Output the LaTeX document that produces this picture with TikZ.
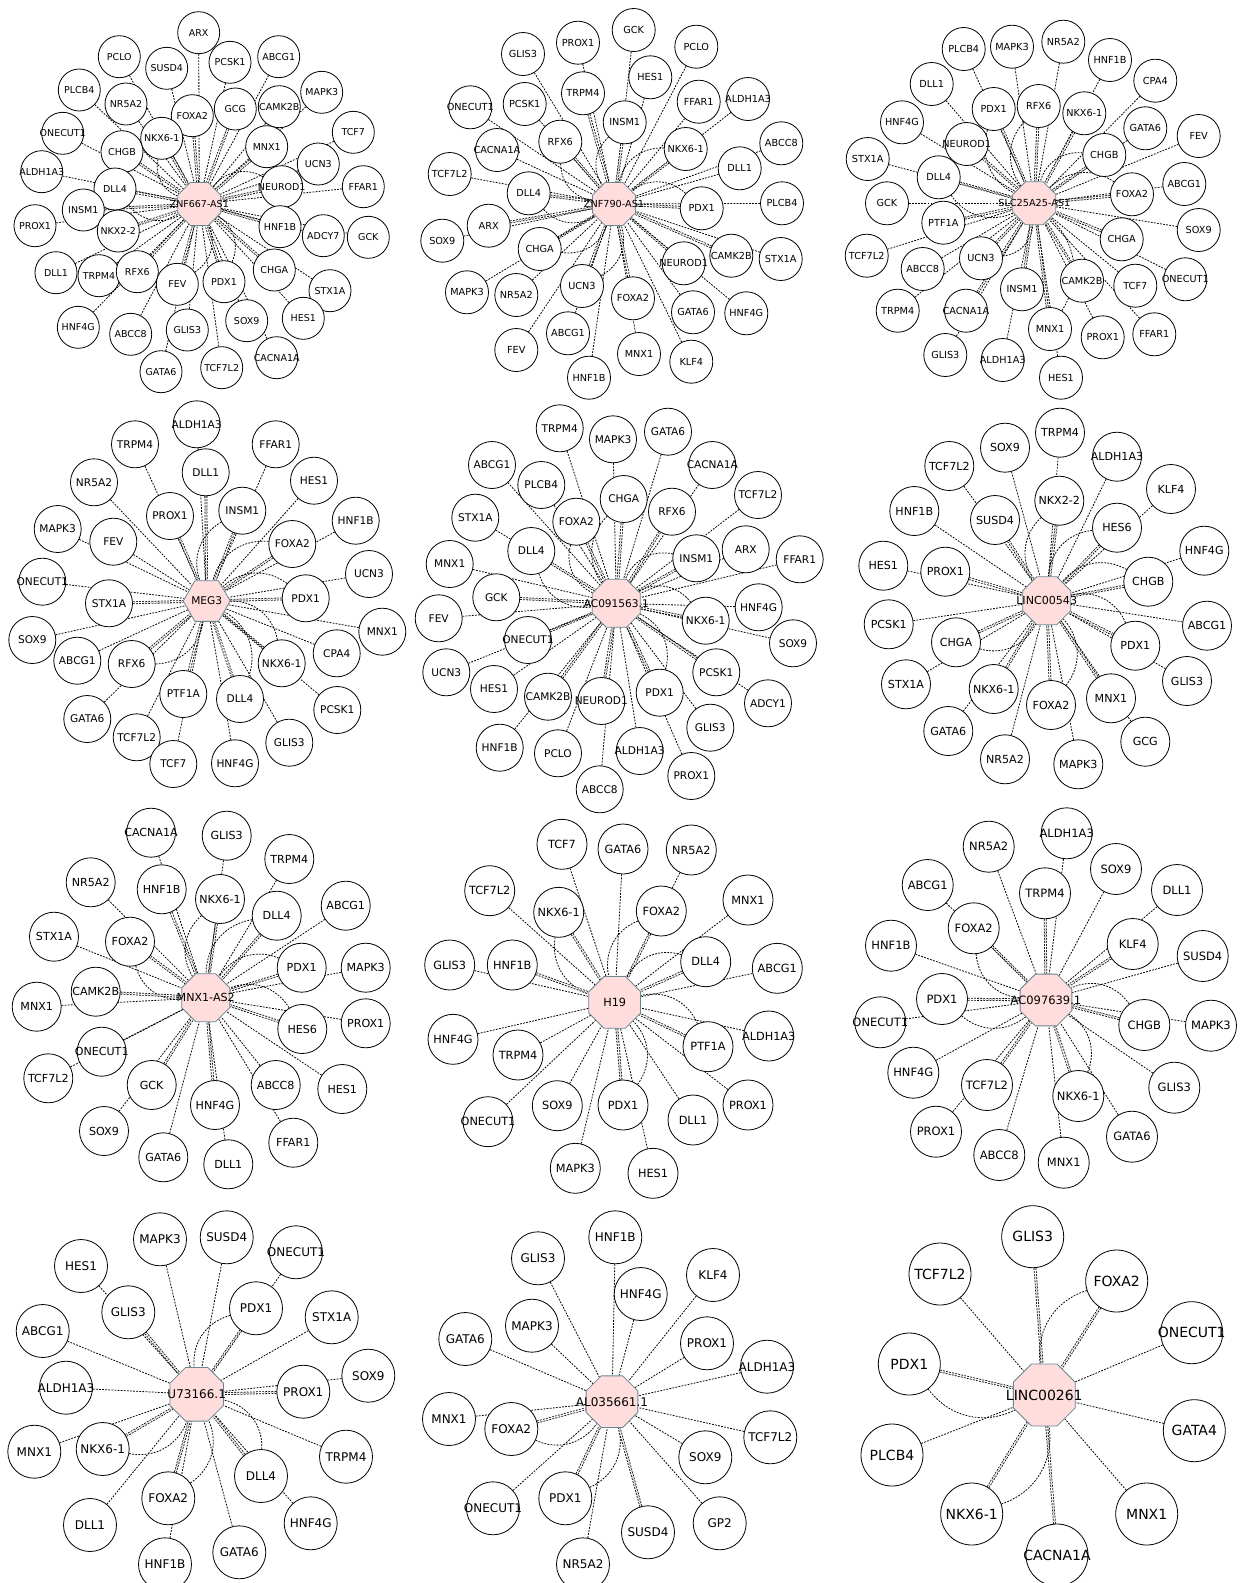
\documentclass[tikz,border=0pt]{standalone}
\usepackage{fontspec}
\setmainfont{DejaVu Sans}
\usetikzlibrary{shapes.geometric,backgrounds}
\definecolor{hubfill}{RGB}{255,221,221}
\definecolor{hubline}{RGB}{105,135,145}
\newcommand\netpanel[2]{%
 \foreach \px/\py/\lab/\mm in {#2}{%
   \node[gn] (n#1-\lab) at (\px,\py) {\makebox[0pt]{\lab}};
 }%
 \begin{pgfonlayer}{background}
 \foreach \px/\py/\lab/\mm in {#2}{%
     \ifnum\mm=1 \draw[edge] (n#1-\lab) -- (h#1);\fi
     \ifnum\mm>1 \draw[edge,double=white,double distance=1.2pt] (n#1-\lab) -- (h#1);\fi
     \ifnum\mm>2 \draw[edge] (n#1-\lab) to[bend right=40] (h#1);\fi
 }%
 \end{pgfonlayer}}
\begin{document}
\begin{tikzpicture}[x=1pt,y=-1pt,
  gn/.style={circle,draw=black,line width=0.8pt,fill=white,minimum size=\cs,inner sep=0pt,font=\fontsize{\fs}{\fs}\selectfont},
  hubo/.style={regular polygon,regular polygon sides=8,draw=hubline,line width=0.8pt,fill=hubfill,inner sep=0pt,minimum size=#1},
  hubh/.style={regular polygon,regular polygon sides=6,draw=hubline,line width=0.8pt,fill=hubfill,inner sep=0pt,minimum size=#1},
  hubt/.style={inner sep=0pt,font=\fontsize{\fs}{\fs}\selectfont},
  edge/.style={line width=0.8pt,dash pattern=on 1.8pt off 1.3pt,draw=black},
]
\useasboundingbox (0,0) rectangle (1240,1583);
\begin{pgfonlayer}{background}
\fill[white] (0,0) rectangle (1240,1583);
\end{pgfonlayer}

% ---------- Panel 1
\def\cs{42pt}\def\fs{9.5}
\node[hubo=46.5pt] (h1) at (199.3,204) {};
\netpanel{1}{198.7/32.7/ARX/1, 119.3/56.7/PCLO/1, 166.7/68.3/SUSD4/1, 230/62.3/PCSK1/1, 278.7/56.7/ABCG1/1,
 321.7/92.3/MAPK3/1, 79.3/90/PLCB4/1, 126/104/NR5A2/1, 192.3/115.7/FOXA2/2, 235.3/109/GCG/2,
 279.3/106.7/CAMK2B/1, 62.7/133.3/ONECUT1/1, 122/151.7/CHGB/2, 161.7/138.3/NKX6-1/3, 266.7/146.7/MNX1/2,
 353.3/132.3/TCF7/1, 318.3/164/UCN3/1, 41.7/171.7/ALDH1A3/1, 115/189/DLL4/3, 281.7/186.7/NEUROD1/3,
 363.3/186.7/FFAR1/1, 83.3/210/INSM1/2, 35/225.7/PROX1/1, 118.3/231/NKX2-2/2, 280/226.7/HNF1B/2,
 323.3/235.7/ADCY7/1, 368.3/237.3/GCK/1, 56/272.7/DLL1/1, 99/275.7/TRPM4/1, 137.3/271.7/RFX6/2,
 177.3/284.3/FEV/3, 224/281.7/PDX1/3, 274.3/270/CHGA/2, 330/290.7/STX1A/1, 78.3/327.3/HNF4G/1,
 130.7/334.3/ABCC8/1, 187.3/330/GLIS3/1, 246.7/320.7/SOX9/1, 303.3/318.3/HES1/1, 276.7/357.7/CACNA1A/1,
 161/371.7/GATA6/1, 221.7/367.7/TCF7L2/1}
\node[hubt] (h1t) at (h1) {ZNF667-AS1};

% ---------- Panel 2
\def\cs{43pt}\def\fs{9.7}
\node[hubo=46.5pt] (h2) at (614,204) {};
\netpanel{2}{633.7/30/GCK/1, 578/42.7/PROX1/1, 696.3/46.7/PCLO/1, 523/54/GLIS3/1, 650.3/77.3/HES1/1,
 583/93.3/TRPM4/2, 470.3/107.3/ONECUT1/1, 524.7/104/PCSK1/1, 624.7/122.3/INSM1/3, 698.7/101.7/FFAR1/1,
 748/99/ALDH1A3/1, 560.3/141.7/RFX6/3, 497/150/CACNA1A/1, 685.7/149/NKX6-1/3, 781.3/143.3/ABCC8/1,
 449.7/174/TCF7L2/1, 739.7/168.3/DLL1/1, 528.7/193.3/DLL4/3, 701.7/208.3/PDX1/3, 782/203.3/PLCB4/1,
 442.3/240.7/SOX9/1, 488.7/225.7/ARX/2, 539.7/249/CHGA/3, 731.3/255.7/CAMK2B/2, 780.7/259/STX1A/1,
 683.7/263.3/NEUROD1/2, 467/292.3/MAPK3/1, 516.3/295/NR5A2/1, 582/286/UCN3/3, 633/298.3/FOXA2/2,
 693/312.3/GATA6/1, 746.3/313.3/HNF4G/1, 568/333.3/ABCG1/1, 516.3/350/FEV/1, 639/354/MNX1/1,
 691.3/361.7/KLF4/1, 589/377.7/HNF1B/1}
\node[hubt] (h2t) at (h2) {ZNF790-AS1};

% ---------- Panel 3
\def\cs{43pt}\def\fs{9.7}
\node[hubo=46.5pt] (h3) at (1034.3,203.3) {};
\netpanel{3}{963.7/49/PLCB4/1, 1012/46.7/MAPK3/1, 1063.3/41.7/NR5A2/1, 1110/60/HNF1B/1, 1155.3/80.7/CPA4/1,
 931.7/84/DLL1/1, 993.7/109/PDX1/3, 1038.7/106/RFX6/3, 1084.3/113.3/NKX6-1/2, 902/122.3/HNF4G/1,
 1145.3/128.3/GATA6/1, 1198.7/136/FEV/1, 966.7/144/NEUROD1/2, 1104.3/155/CHGB/3, 867.7/159/STX1A/1,
 938.7/177.3/DLL4/3, 1132/194.3/FOXA2/3, 1184.3/184/ABCG1/1, 887/203.3/GCK/1, 943.3/222.7/PTF1A/2,
 1121.7/239.3/CHGA/2, 1198.7/230/SOX9/1, 866.7/255.7/TCF7L2/1, 922.7/269/ABCC8/1, 981/258.3/UCN3/3,
 1022/289.3/INSM1/2, 1082/280.7/CAMK2B/2, 1135.3/285.7/TCF7/1, 1185.3/279.3/ONECUT1/1, 897.7/310.7/TRPM4/1,
 966/310.7/CACNA1A/2, 1050/329/MNX1/3, 1102.7/337.3/PROX1/1, 1154.3/334.3/FFAR1/1, 945.3/355/GLIS3/1,
 1002.7/360/ALDH1A3/1, 1061/377.7/HES1/1}
\node[hubt] (h3t) at (h3) {SLC25A25-AS1};

% ---------- Panel 4
\def\cs{47pt}\def\fs{10.6}
\node[hubh=47pt] (h4) at (206.7,601) {};
\netpanel{4}{196.7/424.3/ALDH1A3/1, 135/444.3/TRPM4/1, 275.7/444.3/FFAR1/1, 205.7/472.3/DLL1/2, 94/482.3/NR5A2/1,
 314/480.7/HES1/1, 242.3/510.7/INSM1/3, 170/516/PROX1/2, 355.7/520.7/HNF1B/1, 57.7/529/MAPK3/1,
 113.3/541.7/FEV/1, 292.3/544/FOXA2/3, 369/574/UCN3/1, 42.3/581.7/ONECUT1/1, 109/603.3/STX1A/2,
 305.7/598.3/PDX1/3, 382.3/631.7/MNX1/1, 32.3/640/SOX9/1, 77.3/660.7/ABCG1/1, 131.7/664/RFX6/3,
 336.7/653.3/CPA4/1, 281.7/663.3/NKX6-1/3, 183.3/694/PTF1A/2, 240/699/DLL4/3, 337.3/710/PCSK1/1,
 87.3/719/GATA6/1, 136.7/737.3/TCF7L2/1, 289.3/742.7/GLIS3/1, 173.3/764/TCF7/1, 235/763.3/HNF4G/1}
\node[hubt] (h4t) at (h4) {MEG3};

% ---------- Panel 5
\def\cs{47pt}\def\fs{10.6}
\node[hubo=52pt] (h5) at (616.3,603.3) {};
\netpanel{5}{559.7/428.3/TRPM4/1, 613/439.3/MAPK3/1, 668/431.7/GATA6/1, 492/465/ABCG1/1, 712.3/465/CACNA1A/1,
 541.3/485/PLCB4/1, 623.7/499/CHGA/3, 758/495/TCF7L2/1, 475.3/517.7/STX1A/1, 576.3/521.7/FOXA2/3,
 672/511.7/RFX6/2, 531.3/551/DLL4/3, 696.3/558.3/INSM1/3, 745.7/549.3/ARX/1, 799.7/559.3/FFAR1/1,
 449.7/564/MNX1/1, 496.3/597.3/GCK/2, 758.7/607.3/HNF4G/1, 705.7/620.7/NKX6-1/3, 793/643.3/SOX9/1,
 438.7/618.3/FEV/1, 528/640/ONECUT1/2, 446.3/672.3/UCN3/1, 716.3/672.3/PCSK1/2, 494/689/HES1/1,
 548/696.7/CAMK2B/2, 601.3/701/NEUROD1/2, 659.7/692.7/PDX1/3, 768/703.3/ADCY1/1, 710.3/727.7/GLIS3/1,
 499.7/747.7/HNF1B/1, 558/753.3/PCLO/1, 639.7/751/ALDH1A3/1, 691.3/776/PROX1/1, 599.7/789.3/ABCC8/1}
\node[hubt] (h5t) at (h5) {AC091563.1};

% ---------- Panel 6
\def\cs{49pt}\def\fs{11.1}
\node[hubo=52pt] (h6) at (1046.7,600.7) {};
\netpanel{6}{1060/432.7/TRPM4/1, 1005/447.7/SOX9/1, 1117/456.7/ALDH1A3/1, 949.3/466/TCF7L2/1, 1171/489/KLF4/1,
 1059.3/500.7/NKX2-2/3, 914.3/511/HNF1B/1, 995/520/SUSD4/2, 1117/527.7/HES6/3, 1204.3/550.7/HNF4G/1,
 883.3/565.7/HES1/1, 945.3/571.7/PROX1/2, 1148.3/581.7/CHGB/3, 888.7/624.3/PCSK1/1, 1207/625.7/ABCG1/1,
 956/642.3/CHGA/3, 1135.3/645.7/PDX1/3, 906/684.3/STX1A/1, 1187/681/GLIS3/1, 993.7/689/NKX6-1/2,
 1051/705/FOXA2/3, 1111/698.3/MNX1/2, 948.3/731/GATA6/1, 1145.3/741.7/GCG/1, 1005/759.3/NR5A2/1,
 1078.3/764.3/MAPK3/1}
\node[hubt] (h6t) at (h6) {LINC00543};

% ---------- Panel 7
\def\cs{49pt}\def\fs{11.1}
\node[hubo=52pt] (h7) at (205.7,997.7) {};
\netpanel{7}{151/832.7/CACNA1A/1, 226.7/835.7/GLIS3/1, 289.3/859/TRPM4/1, 90.7/882.3/NR5A2/1, 161.7/889.3/HNF1B/2,
 220/899/NKX6-1/3, 276.7/915.7/DLL4/3, 345.7/905.7/ABCG1/1, 54/936.7/STX1A/1, 130/941.7/FOXA2/3,
 301.7/967.7/PDX1/3, 365.7/967.7/MAPK3/1, 95.7/991.7/CAMK2B/2, 36.7/1006.7/MNX1/1, 302.3/1029/HES6/3,
 365.7/1023.3/PROX1/1, 101.7/1051.7/ONECUT1/1, 48.3/1078.3/TCF7L2/1, 151.7/1085/GCK/2, 275.7/1085/ABCC8/1,
 342.3/1089/HES1/1, 215/1105/HNF4G/2, 104/1131/SOX9/1, 293.3/1142.7/FFAR1/1, 163.3/1157.3/GATA6/1,
 228.3/1164.3/DLL1/1}
\node[hubt] (h7t) at (h7) {MNX1-AS2};

% ---------- Panel 8
\def\cs{50pt}\def\fs{11.3}
\node[hubo=56pt] (h8) at (614.7,1002.3) {};
\netpanel{8}{562/844.3/TCF7/1, 623/849/GATA6/1, 691.3/850/NR5A2/1, 489.7/890.7/TCF7L2/1, 558.7/912.3/NKX6-1/3,
 661.3/911/FOXA2/3, 748/900/MNX1/1, 705.7/961.7/DLL4/3, 777.3/968.3/ABCG1/1, 449.7/965/GLIS3/1,
 512.3/965/HNF1B/2, 768.7/1036/ALDH1A3/1, 708/1046.7/PTF1A/3, 453/1039.3/HNF4G/1, 518/1055/TRPM4/1,
 557.3/1105.7/SOX9/1, 623/1105/PDX1/3, 693/1120/DLL1/1, 748/1105/PROX1/1, 488/1121.7/ONECUT1/1,
 575.3/1168.3/MAPK3/1, 653/1173.3/HES1/1}
\node[hubt] (h8t) at (h8) {H19};

% ---------- Panel 9
\def\cs{51pt}\def\fs{11.5}
\node[hubo=56pt] (h9) at (1046,1000) {};
\netpanel{9}{1066.7/833.3/ALDH1A3/1, 988.7/846.7/NR5A2/1, 1116/869/SOX9/1, 927.7/885/ABCG1/1, 1045/893.3/TRPM4/2,
 1177/890/DLL1/1, 973.7/928.3/FOXA2/3, 1132.7/944/KLF4/2, 891/945.7/HNF1B/1, 1202.7/956/SUSD4/1,
 942/999/PDX1/3, 880.3/1022.3/ONECUT1/1, 1144.3/1025/CHGB/3, 1211/1025.7/MAPK3/1, 913.3/1072.7/HNF4G/1,
 987/1085/TCF7L2/2, 1078.3/1096/NKX6-1/3, 1174.3/1087.7/GLIS3/1, 936/1131.7/PROX1/1, 1132/1136.7/GATA6/1,
 999.3/1155/ABCC8/1, 1063.7/1162.7/MNX1/1}
\node[hubt] (h9t) at (h9) {AC097639.1};

% ---------- Panel 10
\def\cs{53pt}\def\fs{12}
\node[hubo=58pt] (h10) at (196.7,1394.3) {};
\netpanel{10}{160/1239.3/MAPK3/1, 226.7/1237.3/SUSD4/1, 296/1252.3/ONECUT1/1, 81/1266/HES1/1, 128.3/1312.3/GLIS3/2,
 256/1308.3/PDX1/3, 331.7/1317.3/STX1A/1, 42.7/1331/ABCG1/1, 368.3/1375.7/SOX9/1, 66/1387.7/ALDH1A3/1,
 303.3/1391.7/PROX1/2, 34.3/1451.7/MNX1/1, 102.7/1449/NKX6-1/3, 346/1456.7/TRPM4/1, 261/1476/DLL4/3,
 168.3/1498.3/FOXA2/3, 310.7/1523.3/HNF4G/1, 90/1525/DLL1/1, 239.3/1552.3/GATA6/1, 165/1564.3/HNF1B/1}
\node[hubt] (h10t) at (h10) {U73166.1};

% ---------- Panel 11
\def\cs{53pt}\def\fs{12}
\node[hubo=56pt] (h11) at (612,1401.7) {};
\netpanel{11}{615.3/1237.3/HNF1B/1, 538/1258.3/GLIS3/1, 713/1275/KLF4/1, 640.7/1294/HNF4G/1, 532/1325.7/MAPK3/1,
 465.3/1339/GATA6/1, 707/1343.3/PROX1/1, 767/1366.7/ALDH1A3/1, 449/1419/MNX1/1, 511.3/1429/FOXA2/3,
 770.3/1437.3/TCF7L2/1, 705.3/1457.3/SOX9/1, 565.3/1498.3/PDX1/3, 493/1508.3/ONECUT1/1, 719.7/1523.3/GP2/1,
 648/1532.3/SUSD4/2, 583/1564.3/NR5A2/1}
\node[hubt] (h11t) at (h11) {AL035661.1};

% ---------- Panel 12
\def\cs{62pt}\def\fs{14}
\node[hubo=67pt] (h12) at (1044.3,1395) {};
\netpanel{12}{1032.7/1236.7/GLIS3/2, 940/1274/TCF7L2/1, 1116.7/1281/FOXA2/3, 1191.7/1332.7/ONECUT1/1, 909.3/1364/PDX1/3,
 1194.3/1430.7/GATA4/1, 892/1455/PLCB4/1, 971.7/1514/NKX6-1/3, 1146.7/1514/MNX1/1, 1057/1555/CACNA1A/2}
\node[hubt] (h12t) at (h12) {LINC00261};
\end{tikzpicture}
\end{document}
